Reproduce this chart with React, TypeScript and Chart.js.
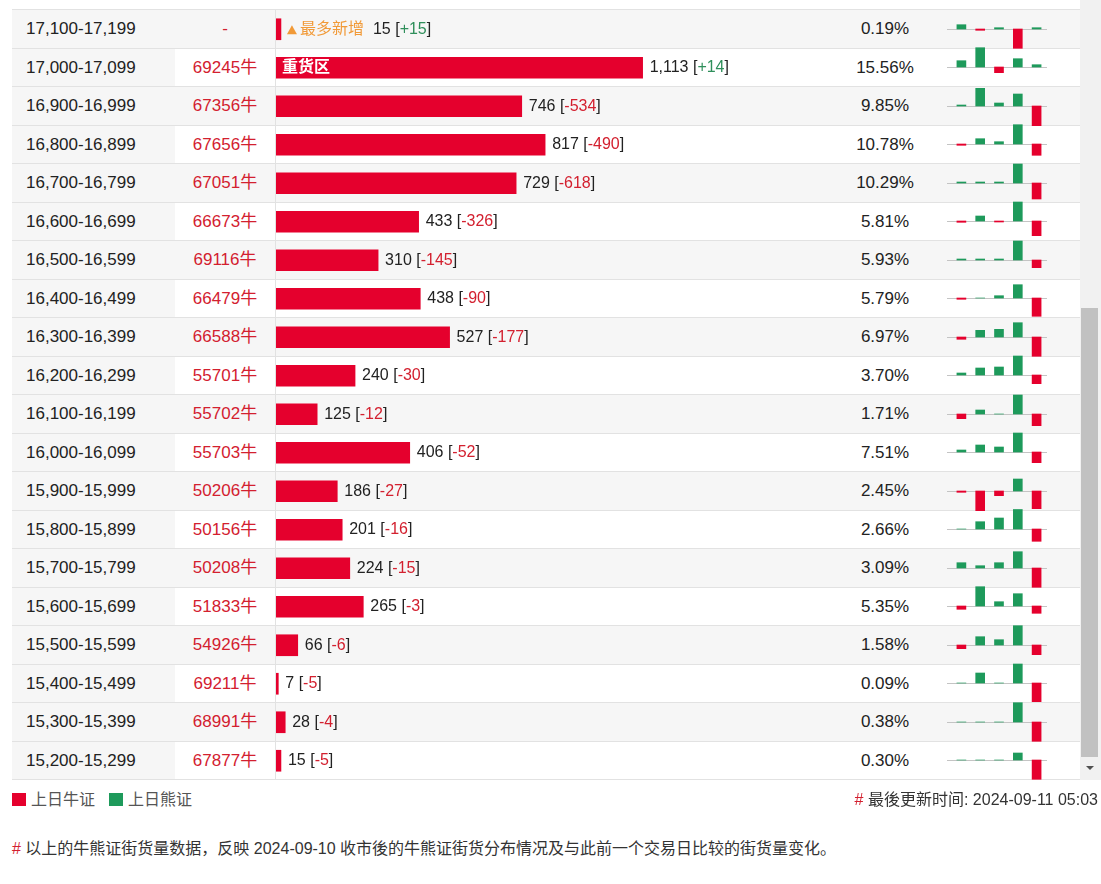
import React, { useEffect, useRef } from 'react';
import { Chart, registerables } from 'chart.js';

Chart.register(...registerables);

// ---------------- data ----------------
const ranges = [
  '17,100-17,199', '17,000-17,099', '16,900-16,999', '16,800-16,899', '16,700-16,799',
  '16,600-16,699', '16,500-16,599', '16,400-16,499', '16,300-16,399', '16,200-16,299',
  '16,100-16,199', '16,000-16,099', '15,900-15,999', '15,800-15,899', '15,700-15,799',
  '15,600-15,699', '15,500-15,599', '15,400-15,499', '15,300-15,399', '15,200-15,299',
];
const codes = [
  '-', '69245牛', '67356牛', '67656牛', '67051牛', '66673牛', '69116牛', '66479牛', '66588牛', '55701牛',
  '55702牛', '55703牛', '50206牛', '50156牛', '50208牛', '51833牛', '54926牛', '69211牛', '68991牛', '67877牛',
];
const volumes = [15, 1113, 746, 817, 729, 433, 310, 438, 527, 240, 125, 406, 186, 201, 224, 265, 66, 7, 28, 15];
const changes = [15, 14, -534, -490, -618, -326, -145, -90, -177, -30, -12, -52, -27, -16, -15, -3, -6, -5, -4, -5];
const percents = [
  '0.19%', '15.56%', '9.85%', '10.78%', '10.29%', '5.81%', '5.93%', '5.79%', '6.97%', '3.70%',
  '1.71%', '7.51%', '2.45%', '2.66%', '3.09%', '5.35%', '1.58%', '0.09%', '0.38%', '0.30%',
];
const miniDays = ['D1', 'D2', 'D3', 'D4', 'D5'];
const miniValues = [
  [4.3, -1.3, 1.3, -19.3, 1.3],
  [6.3, 19.3, -5.7, 8.3, 2.3],
  [1, 17.7, 3, 12, -19.7],
  [-1.3, 5.3, 2.3, 19.3, -11.3],
  [1, 1, 1, 19, -16],
  [-1.3, 5, -1, 19, -14.7],
  [1, 1, 1, 19, -7.7],
  [-1.3, 0, 2.3, 13.3, -18.3],
  [-2.3, 6.7, 7.7, 14.3, -19.3],
  [2, 7, 8, 19, -8.7],
  [-4.7, 4, 0, 19, -11.7],
  [2, 7, 5, 19, -10.7],
  [-1.3, -19.7, -4.7, 12, -17.7],
  [0, 7.3, 11, 19.5, -12.3],
  [5.3, 2.3, 5.3, 16.3, -19.3],
  [-3.3, 19.3, 4.3, 12.3, -7.3],
  [-3.7, 8.3, 5.3, 19.3, -9.7],
  [0, 10, 0, 19, -18.7],
  [0, 0, 0, 19.3, -19.3],
  [0, 0, 0, 7, -19.3],
];
const legendLabels = ['上日牛证', '上日熊证'];
const updateText = '最後更新时间: 2024-09-11 05:03';
const noteText = '以上的牛熊证街货量数据，反映 2024-09-10 收市後的牛熊证街货分布情况及与此前一个交易日比较的街货量变化。';
const hotLabel = '最多新增';
const heavyLabel = '重货区';

// ---------------- styles ----------------
const RED = '#e5002d';
const GREEN = '#1e9a5b';
const TEXT_RED = '#d3202f';
const TEXT_GREEN = '#2f8f5b';
const ORANGE = '#f19a38';
const GRAY_BG = '#f6f6f6';
const LINE = '#e2e2e2';
const FONT = '"Liberation Sans", Arial, "Noto Sans CJK SC", sans-serif';
const TOP = 9.3;
const ROW_H = 38.5;
const X_MAX = 1700;

const hotIndex = changes.indexOf(Math.max(...changes));
const heavyIndex = volumes.indexOf(Math.max(...volumes));

const labelPlugin = {
  id: 'barLabels',
  afterDatasetsDraw(chart: any) {
    const ctx = chart.ctx;
    const meta = chart.getDatasetMeta(0);
    const base = chart.scales.x.getPixelForValue(0);
    meta.data.forEach((bar: any, i: number) => {
      const x = bar.x;
      const y = bar.y;
      ctx.save();
      ctx.textBaseline = 'middle';
      ctx.textAlign = 'left';
      ctx.font = `16px ${FONT}`;
      let tx = x + 7;
      if (i === hotIndex) {
        tx = x + 6;
        ctx.fillStyle = ORANGE;
        ctx.beginPath();
        ctx.moveTo(tx, y + 5);
        ctx.lineTo(tx + 10, y + 5);
        ctx.lineTo(tx + 5, y - 4);
        ctx.closePath();
        ctx.fill();
        tx += 13;
        ctx.fillText(hotLabel, tx, y);
        tx += ctx.measureText(hotLabel).width + 9;
      }
      if (i === heavyIndex) {
        ctx.save();
        ctx.fillStyle = '#ffffff';
        ctx.font = `bold 16px ${FONT}`;
        ctx.fillText(heavyLabel, base + 6, y);
        ctx.restore();
      }
      const c = changes[i];
      const parts: [string, string][] = [
        [volumes[i].toLocaleString('en-US') + ' [', '#222222'],
        [(c > 0 ? '+' : '') + String(c), c >= 0 ? TEXT_GREEN : TEXT_RED],
        [']', '#222222'],
      ];
      parts.forEach(([t, col]) => {
        ctx.fillStyle = col;
        ctx.fillText(t, tx, y);
        tx += ctx.measureText(t).width;
      });
      ctx.restore();
    });
  },
};

const zeroLine = {
  id: 'zeroLine',
  beforeDatasetsDraw(chart: any) {
    const ctx = chart.ctx;
    const y = Math.round(chart.scales.y.getPixelForValue(0)) + 0.5;
    ctx.save();
    ctx.strokeStyle = '#c4c4c4';
    ctx.lineWidth = 1;
    ctx.beginPath();
    ctx.moveTo(0, y);
    ctx.lineTo(chart.width, y);
    ctx.stroke();
    ctx.restore();
  },
};

function MainChart() {
  const ref = useRef<HTMLCanvasElement | null>(null);
  useEffect(() => {
    if (!ref.current) return;
    const chart = new Chart(ref.current, {
      type: 'bar',
      data: {
        labels: ranges,
        datasets: [{ data: volumes, backgroundColor: RED, borderWidth: 0, barThickness: 21 }],
      },
      options: {
        indexAxis: 'y',
        responsive: false,
        animation: false,
        layout: { padding: 0 },
        plugins: { legend: { display: false }, tooltip: { enabled: false } },
        scales: {
          x: { display: false, min: 0, max: X_MAX },
          y: { display: false },
        },
      },
      plugins: [labelPlugin],
    } as any);
    return () => chart.destroy();
  }, []);
  return (
    <canvas
      ref={ref}
      width={560}
      height={770}
      style={{ position: 'absolute', left: 276, top: 10, width: 560, height: 770 }}
    />
  );
}

function MiniChart({ values, top }: { values: number[]; top: number }) {
  const ref = useRef<HTMLCanvasElement | null>(null);
  useEffect(() => {
    if (!ref.current) return;
    const chart = new Chart(ref.current, {
      type: 'bar',
      data: {
        labels: miniDays,
        datasets: [{
          data: values,
          backgroundColor: values.map((v) => (v >= 0 ? GREEN : RED)),
          borderWidth: 0,
          barThickness: 9,
        }],
      },
      options: {
        responsive: false,
        animation: false,
        layout: { padding: { left: 5, right: 1, top: 0, bottom: 0 } },
        plugins: { legend: { display: false }, tooltip: { enabled: false } },
        scales: {
          x: { display: false },
          y: { display: false, min: -20, max: 20 },
        },
      },
      plugins: [zeroLine],
    } as any);
    return () => chart.destroy();
  }, [values]);
  return (
    <canvas
      ref={ref}
      width={100}
      height={40}
      style={{ position: 'absolute', left: 947, top, width: 100, height: 40 }}
    />
  );
}

const cellText: React.CSSProperties = {
  position: 'absolute', top: 0, bottom: 0, display: 'flex', alignItems: 'center',
  fontSize: 17, lineHeight: '20px', whiteSpace: 'nowrap',
};

export default function App() {
  const lineY = (i: number) => Math.round(TOP + ROW_H * i);
  return (
    <div style={{ position: 'absolute', left: 0, top: 0, width: 1101, height: 884, background: '#fff', fontFamily: FONT, overflow: 'hidden' }}>
      <div style={{ position: 'absolute', left: 0, top: 0, width: 1101, height: 780, overflow: 'hidden' }}>
        {ranges.map((r, i) => {
          const t = lineY(i);
          const h = lineY(i + 1) - t;
          return (
            <div
              key={r}
              style={{
                position: 'absolute', left: 12, top: t, width: 1068, height: h,
                background: i % 2 === 0 ? GRAY_BG : '#fff', borderTop: `1px solid ${LINE}`, boxSizing: 'border-box',
              }}
            >
              <div style={{ ...cellText, left: 0, width: 163, background: GRAY_BG, paddingLeft: 14, boxSizing: 'border-box', color: '#222' }}>
                {r}
              </div>
              <div style={{ ...cellText, left: 163, width: 100, justifyContent: 'center', color: TEXT_RED }}>
                {codes[i]}
              </div>
              <div style={{ position: 'absolute', left: 263, top: -1, bottom: 0, width: 1, background: LINE }} />
              <div style={{ ...cellText, left: 823, width: 100, justifyContent: 'center', color: '#222' }}>
                {percents[i]}
              </div>
            </div>
          );
        })}
        <div style={{ position: 'absolute', left: 12, top: lineY(ranges.length), width: 1068, height: 1, background: LINE }} />
        <MainChart />
        {miniValues.map((v, i) => (
          <MiniChart key={i} values={v} top={Math.round(TOP + ROW_H * (i + 0.5)) - 20} />
        ))}
        {/* scrollbar */}
        <div style={{ position: 'absolute', left: 1080, top: 0, width: 21, height: 780, background: '#f1f1f1' }} />
        <div style={{ position: 'absolute', left: 1081, top: 308, width: 17, height: 449, background: '#c1c1c1' }} />
        <div style={{ position: 'absolute', left: 1086, top: 766, width: 0, height: 0, borderLeft: '4px solid transparent', borderRight: '4px solid transparent', borderTop: '4px solid #505050' }} />
      </div>

      {/* legend */}
      <div style={{ position: 'absolute', left: 12, top: 793, width: 14, height: 13, background: RED }} />
      <div style={{ position: 'absolute', left: 31, top: 790, lineHeight: '20px', fontSize: 16, color: '#555', whiteSpace: 'nowrap' }}>{legendLabels[0]}</div>
      <div style={{ position: 'absolute', left: 109, top: 793, width: 14, height: 13, background: GREEN }} />
      <div style={{ position: 'absolute', left: 128, top: 790, lineHeight: '20px', fontSize: 16, color: '#555', whiteSpace: 'nowrap' }}>{legendLabels[1]}</div>

      <div style={{ position: 'absolute', right: 3, top: 790, lineHeight: '20px', fontSize: 16, color: '#333', whiteSpace: 'nowrap' }}>
        <span style={{ color: TEXT_RED }}>#</span> {updateText}
      </div>

      <div style={{ position: 'absolute', left: 12, top: 839, lineHeight: '20px', fontSize: 16, color: '#333', whiteSpace: 'nowrap' }}>
        <span style={{ color: TEXT_RED }}>#</span> {noteText}
      </div>
    </div>
  );
}
